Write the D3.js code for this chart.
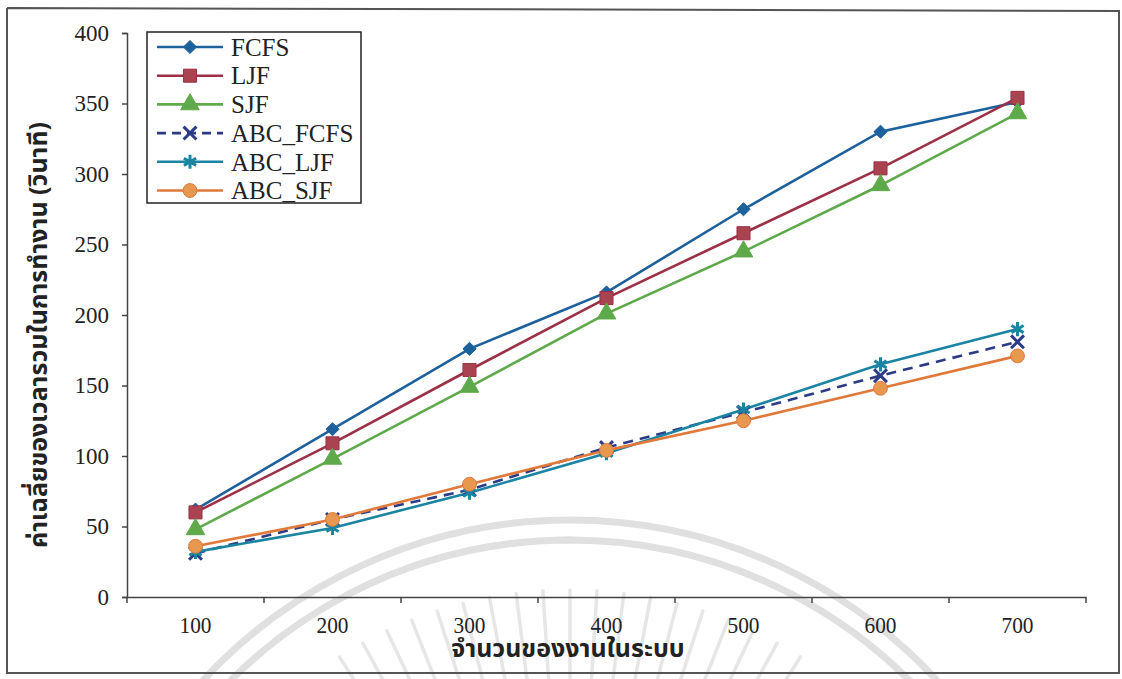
<!DOCTYPE html>
<html>
<head>
<meta charset="utf-8">
<script src="https://cdn.jsdelivr.net/npm/d3@7/dist/d3.min.js"></script>
<style>
  html, body { margin: 0; padding: 0; background: #fff; }
  svg { display: block; }
  .serif { font-family: "Liberation Serif", "Times New Roman", serif; }
  .thai { font-family: "Noto Sans Thai", "Noto Serif Thai", "Loma", "Garuda", "Norasi", "Tlwg Typo", "Noto Sans", sans-serif; font-weight: bold; }
</style>
</head>
<body>
<svg id="chart" width="1122" height="679"></svg>
<script>
// ---- data ----
const categories = [100, 200, 300, 400, 500, 600, 700];
const seriesNames = ["FCFS", "LJF", "SJF", "ABC_FCFS", "ABC_LJF", "ABC_SJF"];
const fcfs    = [62, 119, 176, 216, 275, 330, 351];
const ljf     = [60, 109, 161, 212, 258, 304, 354];
const sjf     = [48, 98, 149, 201, 245, 292, 343];
const abcFcfs = [31, 55, 76, 106, 131, 157, 181];
const abcLjf  = [32, 49, 74, 102, 133, 165, 190];
const abcSjf  = [36, 55, 80, 104, 125, 148, 171];
const yTicks  = [0, 50, 100, 150, 200, 250, 300, 350, 400];
const xTitle = "จำนวนของงานในระบบ";
const yTitle = "ค่าเฉลี่ยของเวลารวมในการทำงาน (วินาที)";

// ---- styles ----
const styles = [
  { values: fcfs,    color: "#1c609c", fill: "#1c609c", symbol: d3.symbolDiamond2, size: 110, dash: null,   stroke: false },
  { values: ljf,     color: "#9b3047", fill: "#a8434f", symbol: d3.symbolSquare,   size: 170, dash: null,   stroke: false },
  { values: sjf,     color: "#5ea94a", fill: "#5ea94a", symbol: d3.symbolTriangle, size: 150, dash: null,   stroke: false },
  { values: abcFcfs, color: "#2c3b86", fill: "none",    symbol: d3.symbolX,        size: 110, dash: "10,7", stroke: true },
  { values: abcLjf,  color: "#1b84a3", fill: "none",    symbol: d3.symbolAsterisk, size: 140, dash: null,   stroke: true },
  { values: abcSjf,  color: "#e0793a", fill: "#e6984f", symbol: d3.symbolCircle,   size: 150, dash: null,   stroke: false }
];

const svg = d3.select("#chart");

// ---- watermark (faint seal) ----
const wm = svg.append("g").attr("fill", "none").attr("stroke", "#e0e0e0");
const wcx = 570, wcy = 1020;
[500, 480].forEach(r => {
  wm.append("path").attr("stroke-width", 7)
    .attr("d", d3.arc()({ innerRadius: r, outerRadius: r, startAngle: -0.9, endAngle: 0.9 }))
    .attr("transform", `translate(${wcx},${wcy})`);
});
const rayAngles = d3.range(-9, 10).map(i => i * 3.6 * Math.PI / 180);
wm.selectAll("line.ray").data(rayAngles).join("line")
  .attr("stroke", "#e6e6e6").attr("stroke-width", 3.5).attr("stroke-linecap", "round")
  .attr("x1", a => wcx + Math.sin(a) * 330).attr("y1", a => wcy - Math.cos(a) * 330)
  .attr("x2", a => wcx + Math.sin(a) * 430).attr("y2", a => wcy - Math.cos(a) * 430);

// ---- outer frame ----
svg.append("path")
  .attr("d", d3.line()([[7, 8], [1119, 11], [1119, 673], [7, 673], [7, 8]]))
  .attr("fill", "none").attr("stroke", "#555").attr("stroke-width", 2);

// ---- scales ----
const x = d3.scaleBand().domain(categories).range([127, 1086]).padding(0);
const y = d3.scaleLinear().domain([0, 400]).range([597, 33]);
const cx = d => x(d) + x.bandwidth() / 2;

// ---- axes ----
const yAxis = svg.append("g").attr("transform", "translate(127,0)")
  .call(d3.axisLeft(y).tickValues(yTicks).tickSize(5).tickPadding(13).tickFormat(d3.format("d")));
yAxis.select(".domain").attr("stroke", "#444").attr("stroke-width", 1.5);
yAxis.selectAll(".tick line").attr("stroke", "#444").attr("stroke-width", 1.5);
yAxis.selectAll("text").attr("class", "serif").attr("font-size", 23).attr("fill", "#222");

const xAxis = svg.append("g").attr("transform", "translate(0,597)")
  .call(d3.axisBottom(x).tickSize(0).tickPadding(20));
xAxis.select(".domain").attr("stroke", "#444").attr("stroke-width", 1.5);
xAxis.selectAll("text").attr("class", "serif").attr("font-size", 23).attr("fill", "#222")
  .attr("textLength", 32).attr("lengthAdjust", "spacingAndGlyphs");
// band-boundary tick marks
const bounds = d3.range(categories.length + 1).map(i => x.range()[0] + i * x.step());
svg.append("g").selectAll("line").data(bounds).join("line")
  .attr("x1", d => d).attr("x2", d => d).attr("y1", 597).attr("y2", 603)
  .attr("stroke", "#444").attr("stroke-width", 1.5);

// ---- axis titles ----
svg.append("text").attr("class", "thai").attr("x", 568).attr("y", 657)
  .attr("text-anchor", "middle").attr("font-size", 25).attr("fill", "#222").text(xTitle);
svg.append("text").attr("class", "thai")
  .attr("transform", "translate(47,335) rotate(-90)")
  .attr("text-anchor", "middle").attr("font-size", 25).attr("fill", "#222").text(yTitle);

// ---- lines & markers ----
const line = d3.line().x((d, i) => cx(categories[i])).y(d => y(d));
styles.forEach(s => {
  svg.append("path").datum(s.values)
    .attr("d", line).attr("fill", "none")
    .attr("stroke", s.color).attr("stroke-width", 2.6)
    .attr("stroke-dasharray", s.dash);
});
styles.forEach(s => {
  const sym = d3.symbol().type(s.symbol).size(s.size);
  svg.append("g").selectAll("path").data(s.values).join("path")
    .attr("d", sym)
    .attr("transform", (d, i) => `translate(${cx(categories[i])},${y(d)})` + (s.symbol === d3.symbolDiamond2 ? "" : ""))
    .attr("fill", s.stroke ? "none" : s.fill)
    .attr("stroke", s.color)
    .attr("stroke-width", s.stroke ? 3 : 1);
});

// ---- legend ----
const lg = svg.append("g");
lg.append("rect").attr("x", 147).attr("y", 32).attr("width", 214).attr("height", 171)
  .attr("fill", "#fff").attr("stroke", "#222").attr("stroke-width", 1.5);
styles.forEach((s, i) => {
  const yy = 47 + i * 28.7;
  lg.append("line").attr("x1", 157).attr("x2", 223).attr("y1", yy).attr("y2", yy)
    .attr("stroke", s.color).attr("stroke-width", 2.6).attr("stroke-dasharray", s.dash ? "9,6" : null);
  lg.append("path").attr("d", d3.symbol().type(s.symbol).size(s.size)())
    .attr("transform", `translate(190,${yy})`)
    .attr("fill", s.stroke ? "none" : s.fill).attr("stroke", s.color)
    .attr("stroke-width", s.stroke ? 3 : 1);
  lg.append("text").attr("class", "serif").attr("x", 231).attr("y", yy)
    .attr("dy", "0.35em").attr("font-size", 25).attr("fill", "#222").text(seriesNames[i]);
});
</script>
</body>
</html>
